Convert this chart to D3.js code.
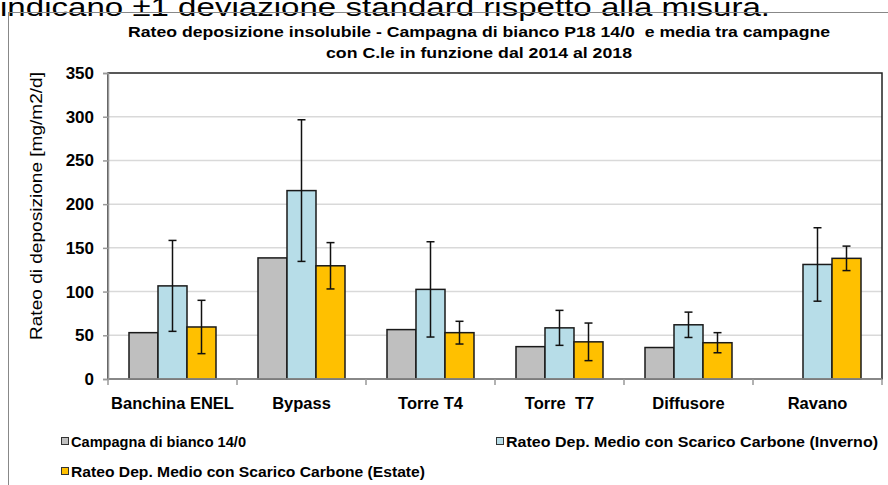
<!DOCTYPE html>
<html>
<head>
<meta charset="utf-8">
<script src="https://cdn.jsdelivr.net/npm/d3@7/dist/d3.min.js"></script>
<style>
  html, body { margin: 0; padding: 0; background: #fff; }
  svg { display: block; }
</style>
</head>
<body>
<svg id="chart" width="888" height="485"></svg>
<script>
const categories = ["Banchina ENEL", "Bypass", "Torre T4", "Torre  T7", "Diffusore", "Ravano"];
const seriesNames = [
  "Campagna di bianco 14/0",
  "Rateo Dep. Medio con Scarico Carbone (Inverno)",
  "Rateo Dep. Medio con Scarico Carbone (Estate)"
];
const bianco = [53, 138.5, 56.5, 37, 36, null];
const inverno = [106.5, 215.5, 102.5, 58.5, 62, 131];
const invernoErr = [52, 81, 54.5, 20, 14.5, 42];
const estate = [59.5, 129.5, 53, 42.5, 41.5, 138];
const estateErr = [30.5, 26.5, 13, 21.5, 11.5, 14];
const yTicks = [0, 50, 100, 150, 200, 250, 300, 350];
const colors = ["#bfbfbf", "#b7dde8", "#ffc000"];

const svg = d3.select("#chart");

// top cut-off text (cut in the reference as well)
svg.append("text")
  .attr("x", 0).attr("y", 16)
  .attr("font-family", "Liberation Sans, Arial, sans-serif")
  .attr("font-size", 26)
  .attr("textLength", 770).attr("lengthAdjust", "spacingAndGlyphs")
  .text("indicano ±1 deviazione standard rispetto alla misura.");

// chart frame
svg.append("rect")
  .attr("x", 8.5).attr("y", 12.5).attr("width", 900).attr("height", 500)
  .attr("fill", "none").attr("stroke", "#888").attr("stroke-width", 1);

const plot = { left: 108, right: 882, top: 73, bottom: 379 };

const y = d3.scaleLinear().domain([0, 350]).range([plot.bottom, plot.top]);
const x = d3.scaleBand().domain(categories).range([plot.left, plot.right]).padding(0);
const sub = d3.scaleBand().domain([0, 1, 2]).range([0, x.bandwidth()]).paddingInner(0).paddingOuter(0.724);

// gridlines
svg.append("g").selectAll("line")
  .data(yTicks.filter(t => t > 0 && t < 350))
  .join("line")
  .attr("x1", plot.left).attr("x2", plot.right)
  .attr("y1", d => y(d)).attr("y2", d => y(d))
  .attr("stroke", "#d9d9d9").attr("stroke-width", 1.5);

// plot area border
svg.append("rect")
  .attr("x", plot.left).attr("y", plot.top)
  .attr("width", plot.right - plot.left).attr("height", plot.bottom - plot.top)
  .attr("fill", "none").attr("stroke", "#222").attr("stroke-width", 1.5);

// bars
const series = [bianco, inverno, estate];
const errs = [null, invernoErr, estateErr];
series.forEach((vals, si) => {
  const g = svg.append("g");
  g.selectAll("rect")
    .data(categories.map((c, i) => ({ c, v: vals[i] })).filter(d => d.v != null))
    .join("rect")
    .attr("x", d => x(d.c) + sub(si))
    .attr("y", d => y(d.v))
    .attr("width", sub.bandwidth())
    .attr("height", d => y(0) - y(d.v))
    .attr("fill", colors[si])
    .attr("stroke", "#1a1a1a").attr("stroke-width", 1.5);
});

// axes
const yAxis = d3.axisLeft(y).tickValues(yTicks).tickSize(5).tickPadding(9);
const gy = svg.append("g").attr("transform", `translate(${plot.left},0)`).call(yAxis);
gy.select(".domain").attr("stroke", "#999").attr("stroke-width", 1.5);
gy.selectAll(".tick line").attr("stroke", "#999").attr("stroke-width", 1.5);
gy.selectAll(".tick text")
  .attr("font-family", "Liberation Sans, Arial, sans-serif")
  .attr("font-weight", "bold").attr("font-size", 17).attr("fill", "#000");

const gx = svg.append("g").attr("transform", `translate(0,${plot.bottom})`);
gx.append("line").attr("x1", plot.left).attr("x2", plot.right)
  .attr("y1", 0).attr("y2", 0).attr("stroke", "#999").attr("stroke-width", 1.5);
const boundaries = categories.map(c => x(c)).concat([plot.right]);
gx.selectAll("line.tk").data(boundaries).join("line").attr("class", "tk")
  .attr("x1", d => d).attr("x2", d => d).attr("y1", 0).attr("y2", 6)
  .attr("stroke", "#999").attr("stroke-width", 1.5);
gx.selectAll("text").data(categories).join("text")
  .attr("x", d => x(d) + x.bandwidth() / 2).attr("y", 30)
  .attr("text-anchor", "middle")
  .attr("font-family", "Liberation Sans, Arial, sans-serif")
  .attr("font-weight", "bold").attr("font-size", 16.5)
  .style("white-space", "pre")
  .text(d => d);

// error bars
[1, 2].forEach(si => {
  const vals = series[si], e = errs[si];
  const g = svg.append("g").attr("stroke", "#111").attr("stroke-width", 1.5);
  categories.forEach((c, i) => {
    if (vals[i] == null) return;
    const cx = x(c) + sub(si) + sub.bandwidth() / 2;
    const top = y(vals[i] + e[i]), bot = y(vals[i] - e[i]);
    g.append("line").attr("x1", cx).attr("x2", cx).attr("y1", top).attr("y2", bot);
    g.append("line").attr("x1", cx - 4).attr("x2", cx + 4).attr("y1", top).attr("y2", top);
    g.append("line").attr("x1", cx - 4).attr("x2", cx + 4).attr("y1", bot).attr("y2", bot);
  });
});

// title
const title = svg.append("g")
  .attr("font-family", "Liberation Sans, Arial, sans-serif")
  .attr("font-weight", "bold").attr("font-size", 14.5).attr("text-anchor", "middle");
title.append("text").attr("x", 479).attr("y", 37)
  .attr("textLength", 702).attr("lengthAdjust", "spacingAndGlyphs")
  .style("white-space", "pre")
  .text("Rateo deposizione insolubile - Campagna di bianco P18 14/0  e media tra campagne");
title.append("text").attr("x", 479).attr("y", 58)
  .attr("textLength", 306).attr("lengthAdjust", "spacingAndGlyphs")
  .text("con C.le in funzione dal 2014 al 2018");

// y axis title
svg.append("text")
  .attr("transform", "translate(42,206) rotate(-90)")
  .attr("text-anchor", "middle")
  .attr("font-family", "Liberation Sans, Arial, sans-serif")
  .attr("font-size", 16.5)
  .attr("textLength", 268).attr("lengthAdjust", "spacingAndGlyphs")
  .text("Rateo di deposizione [mg/m2/d]");

// legend
const legendPos = [
  { x: 61, y: 447, w: 175 },
  { x: 496, y: 447, w: 372 },
  { x: 61, y: 477, w: 354 }
];
const lg = svg.append("g")
  .attr("font-family", "Liberation Sans, Arial, sans-serif")
  .attr("font-weight", "bold").attr("font-size", 14.5);
seriesNames.forEach((name, i) => {
  const p = legendPos[i];
  lg.append("rect").attr("x", p.x + 0.5).attr("y", p.y - 9.5).attr("width", 7).attr("height", 7)
    .attr("fill", colors[i]).attr("stroke", "#333").attr("stroke-width", 1);
  lg.append("text").attr("x", p.x + 10).attr("y", p.y)
    .attr("textLength", p.w).attr("lengthAdjust", "spacingAndGlyphs")
    .text(name);
});
</script>
</body>
</html>
